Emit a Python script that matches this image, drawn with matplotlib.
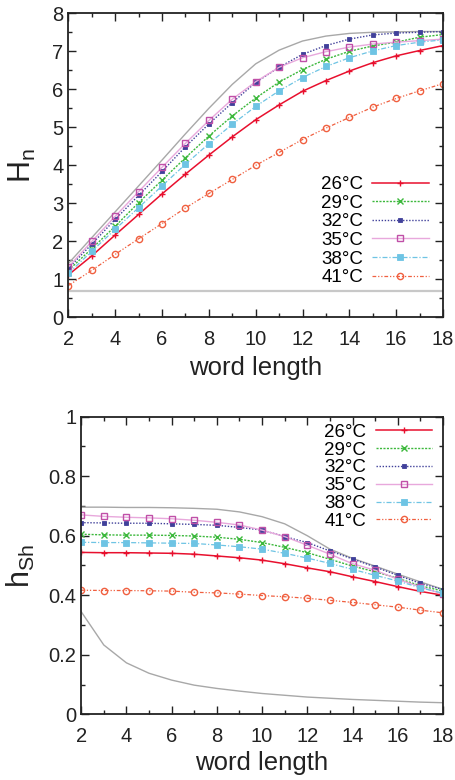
import matplotlib
matplotlib.use("Agg")
import matplotlib.pyplot as plt
from matplotlib.ticker import MultipleLocator, FormatStrFormatter

plt.rcParams['font.family'] = ['Liberation Sans', 'DejaVu Sans']

word_length = list(range(2, 19))
temps = ['26°C', '29°C', '32°C', '35°C', '38°C', '41°C']

# block entropy H_n
H_26 = [1.12, 1.62, 2.17, 2.71, 3.25, 3.77, 4.27, 4.75, 5.20, 5.59, 5.95, 6.23, 6.48, 6.70, 6.88, 7.02, 7.15]
H_29 = [1.24, 1.81, 2.40, 3.02, 3.61, 4.20, 4.77, 5.30, 5.77, 6.19, 6.52, 6.79, 7.00, 7.14, 7.24, 7.37, 7.44]
H_32 = [1.29, 1.93, 2.58, 3.21, 3.84, 4.49, 5.09, 5.65, 6.18, 6.58, 6.92, 7.15, 7.32, 7.43, 7.48, 7.50, 7.52]
H_35 = [1.33, 2.00, 2.66, 3.31, 3.95, 4.58, 5.18, 5.74, 6.20, 6.58, 6.83, 6.99, 7.11, 7.19, 7.24, 7.28, 7.32]
H_38 = [1.16, 1.74, 2.32, 2.89, 3.46, 4.03, 4.57, 5.08, 5.55, 5.96, 6.31, 6.60, 6.83, 7.01, 7.15, 7.24, 7.30]
H_41 = [0.84, 1.24, 1.66, 2.07, 2.47, 2.88, 3.26, 3.63, 4.00, 4.34, 4.68, 4.98, 5.26, 5.53, 5.76, 5.96, 6.15]
H_max = [1.42, 2.10, 2.78, 3.46, 4.14, 4.83, 5.50, 6.13, 6.67, 7.03, 7.27, 7.40, 7.47, 7.50, 7.51, 7.52, 7.52]
H_ref = [0.69] * 17

# entropy rate h_Sh
h_26 = [0.544, 0.543, 0.543, 0.542, 0.541, 0.538, 0.532, 0.526, 0.518, 0.506, 0.492, 0.479, 0.462, 0.446, 0.429, 0.413, 0.400]
h_29 = [0.605, 0.603, 0.602, 0.602, 0.601, 0.599, 0.595, 0.588, 0.577, 0.561, 0.543, 0.521, 0.498, 0.479, 0.457, 0.432, 0.414]
h_32 = [0.644, 0.643, 0.642, 0.642, 0.640, 0.638, 0.635, 0.628, 0.619, 0.597, 0.577, 0.549, 0.522, 0.495, 0.467, 0.440, 0.419]
h_35 = [0.670, 0.665, 0.662, 0.660, 0.657, 0.652, 0.645, 0.636, 0.619, 0.597, 0.568, 0.538, 0.506, 0.484, 0.454, 0.428, 0.404]
h_38 = [0.578, 0.577, 0.577, 0.576, 0.575, 0.574, 0.569, 0.563, 0.555, 0.541, 0.525, 0.507, 0.487, 0.467, 0.448, 0.425, 0.407]
h_41 = [0.417, 0.416, 0.416, 0.415, 0.414, 0.410, 0.408, 0.404, 0.399, 0.395, 0.390, 0.383, 0.376, 0.368, 0.360, 0.350, 0.341]
h_max = [0.696, 0.696, 0.695, 0.695, 0.694, 0.692, 0.689, 0.680, 0.664, 0.640, 0.600, 0.555, 0.524, 0.498, 0.471, 0.445, 0.420]
h_low = [0.345, 0.233, 0.173, 0.138, 0.115, 0.098, 0.087, 0.078, 0.070, 0.064, 0.058, 0.054, 0.050, 0.047, 0.044, 0.041, 0.039]

styles = [
    dict(color='#e8102e', ls='-', marker='+', ms=5, mew=1.0, lw=1.1),
    dict(color='#3cb83c', ls=(0, (1.5, 1)), marker='x', ms=4, mew=1.0, lw=1.0),
    dict(color='#40409a', ls=(0, (1, 1.2)), marker='s', ms=3.5, mew=0.6, lw=1.0),
    dict(color='#e8a8dc', ls='-', marker='s', ms=5, mfc='none', mec='#c050a8', mew=1.0, lw=1.0),
    dict(color='#6ec4e4', ls=(0, (4, 1.5, 1, 1.5)), marker='s', ms=4.5, mew=0.6, lw=0.9),
    dict(color='#f06040', ls=(0, (3, 1.5, 1, 1.5, 1, 1.5)), marker='o', ms=4.5, mfc='none', mew=1.0, lw=0.9),
]


def style_axes(ax, ymajor, yminor):
    ax.set_xlim(2, 18)
    ax.xaxis.set_major_locator(MultipleLocator(2))
    ax.xaxis.set_minor_locator(MultipleLocator(1))
    ax.yaxis.set_major_locator(MultipleLocator(ymajor))
    ax.yaxis.set_minor_locator(MultipleLocator(yminor))
    ax.yaxis.set_major_formatter(FormatStrFormatter('%g'))
    ax.tick_params(which='both', direction='in', top=True, right=True, colors='#222222', labelsize=14.5)
    ax.tick_params(which='major', length=6, width=1)
    ax.tick_params(which='minor', length=3, width=1)
    ax.tick_params(axis='x', pad=9)
    for sp in ax.spines.values():
        sp.set_linewidth(1.3)
        sp.set_color('#222222')


fig = plt.figure(figsize=(4.56, 7.8), dpi=100)

ax1 = fig.add_axes([0.150, 0.593, 0.8215, 0.390])
ax1.plot(word_length, H_max, color='#a8a8a8', lw=1.0)
ax1.plot(word_length, H_ref, color='#c8c8c8', lw=1.6)
for series, lab, st in zip([H_26, H_29, H_32, H_35, H_38, H_41], temps, styles):
    ax1.plot(word_length, series, label=lab, **st)
ax1.set_ylim(0, 8)
style_axes(ax1, 1, 0.5)
ax1.set_xlabel('word length', fontsize=18.5, color='#222222', labelpad=5)
ax1.set_ylabel('H$_\\mathregular{n}$', fontsize=22, color='#222222', labelpad=10)
ax1.legend(loc='upper left', bbox_to_anchor=(0.674, 0.465), frameon=False, fontsize=13.5,
           markerfirst=False, numpoints=1, handlelength=3.0, handletextpad=0.5,
           labelspacing=0.08, borderpad=0, borderaxespad=0)

ax2 = fig.add_axes([0.178, 0.0842, 0.7935, 0.3816])
ax2.plot(word_length, h_max, color='#a8a8a8', lw=1.0)
ax2.plot(word_length, h_low, color='#a8a8a8', lw=1.0)
for series, lab, st in zip([h_26, h_29, h_32, h_35, h_38, h_41], temps, styles):
    ax2.plot(word_length, series, label=lab, **st)
ax2.set_ylim(0, 1)
style_axes(ax2, 0.2, 0.1)
ax2.set_xlabel('word length', fontsize=18.5, color='#222222', labelpad=4)
ax2.set_ylabel('h$_\\mathregular{Sh}$', fontsize=22, color='#222222', labelpad=8)
ax2.legend(loc='upper left', bbox_to_anchor=(0.672, 0.977), frameon=False, fontsize=13.5,
           markerfirst=False, numpoints=1, handlelength=3.0, handletextpad=0.5,
           labelspacing=0.04, borderpad=0, borderaxespad=0)

fig.savefig('out.png', dpi=100)
